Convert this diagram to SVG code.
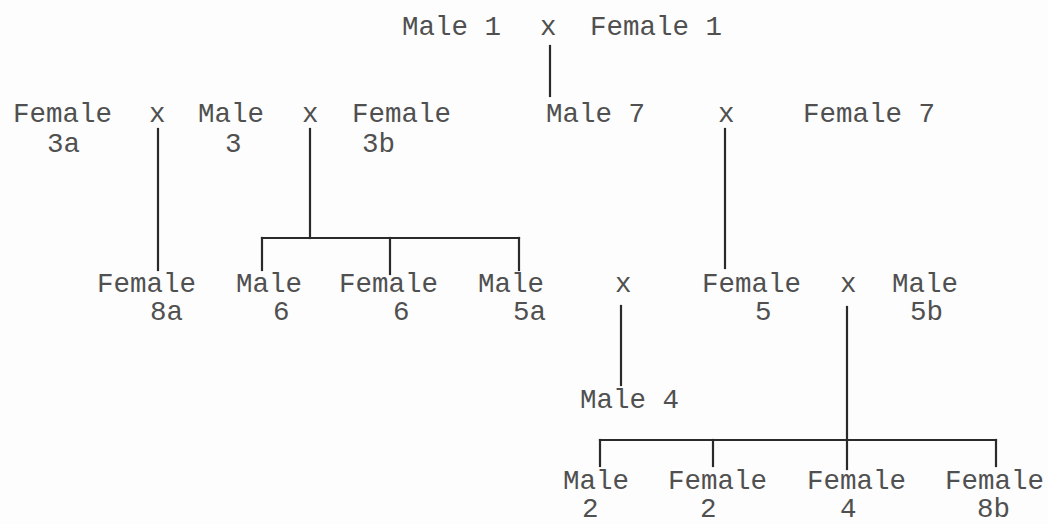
<svg xmlns="http://www.w3.org/2000/svg" width="1048" height="524" viewBox="0 0 1048 524">
<style>
text{font-family:"Liberation Mono","Courier New",monospace;font-size:27.5px;fill:#505050;}
.c line{stroke:#2a2a2a;stroke-width:2.2;stroke-linecap:square;}
</style>
<rect width="1048" height="524" fill="#fdfdfd"/>
<g class="c" id="connectors">
<line x1="550" y1="46" x2="550" y2="96"/>
<line x1="158" y1="129" x2="158" y2="270"/>
<line x1="310" y1="129" x2="310" y2="238"/>
<line x1="262" y1="238" x2="519" y2="238"/>
<line x1="262" y1="238" x2="262" y2="270"/>
<line x1="390" y1="238" x2="390" y2="274"/>
<line x1="519" y1="238" x2="519" y2="270"/>
<line x1="725" y1="129" x2="725" y2="268"/>
<line x1="621" y1="306" x2="621" y2="385"/>
<line x1="847" y1="307" x2="847" y2="469"/>
<line x1="600" y1="440" x2="996" y2="440"/>
<line x1="600" y1="440" x2="600" y2="466"/>
<line x1="713" y1="440" x2="713" y2="466"/>
<line x1="996" y1="440" x2="996" y2="466"/>
</g>
<g id="male1"><text x="402" y="35">Male 1</text></g>
<g id="cross1"><text x="540" y="35">x</text></g>
<g id="female1"><text x="590" y="35">Female 1</text></g>
<g id="female3a"><text x="13" y="122">Female</text><text x="47" y="152">3a</text></g>
<g id="cross3a"><text x="149" y="122">x</text></g>
<g id="male3"><text x="198" y="122">Male</text><text x="225" y="152">3</text></g>
<g id="cross3b"><text x="302" y="122">x</text></g>
<g id="female3b"><text x="352" y="122">Female</text><text x="362" y="152">3b</text></g>
<g id="male7"><text x="546" y="122">Male 7</text></g>
<g id="cross7"><text x="718" y="122">x</text></g>
<g id="female7"><text x="803" y="122">Female 7</text></g>
<g id="female8a"><text x="97" y="292">Female</text><text x="150" y="320">8a</text></g>
<g id="male6"><text x="236" y="292">Male</text><text x="273" y="320">6</text></g>
<g id="female6"><text x="339" y="292">Female</text><text x="393" y="320">6</text></g>
<g id="male5a"><text x="478" y="292">Male</text><text x="513" y="320">5a</text></g>
<g id="cross5a"><text x="615" y="292">x</text></g>
<g id="female5"><text x="702" y="292">Female</text><text x="755" y="320">5</text></g>
<g id="cross5b"><text x="840" y="292">x</text></g>
<g id="male5b"><text x="892" y="292">Male</text><text x="910" y="320">5b</text></g>
<g id="male4"><text x="580" y="408">Male 4</text></g>
<g id="male2"><text x="563" y="489">Male</text><text x="582" y="517">2</text></g>
<g id="female2"><text x="668" y="489">Female</text><text x="700" y="517">2</text></g>
<g id="female4"><text x="807" y="489">Female</text><text x="840" y="517">4</text></g>
<g id="female8b"><text x="945" y="489">Female</text><text x="977" y="517">8b</text></g>
</svg>
